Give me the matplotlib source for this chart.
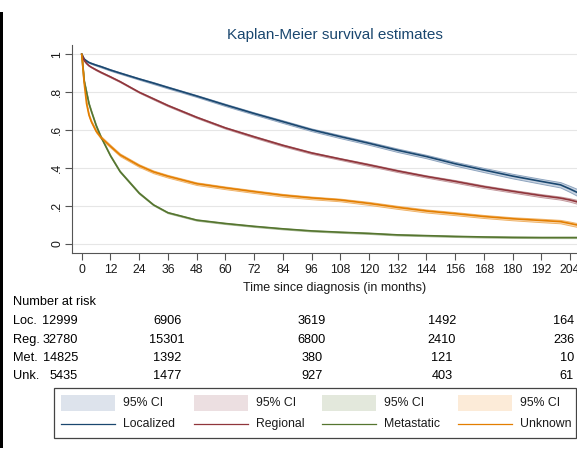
import numpy as np
import matplotlib.pyplot as plt
from matplotlib.patches import Rectangle

plt.rcParams['font.family'] = ['Liberation Sans', 'DejaVu Sans']

# Survival estimates read on a common grid of months
months = np.array([0, 1, 2, 3, 4, 6, 8, 12, 16, 24, 30, 36, 48, 60, 72, 84, 96,
                   108, 120, 132, 144, 156, 168, 180, 192, 200, 204, 207])

surv_loc = np.array([1.0, 0.975, 0.965, 0.957, 0.952, 0.943, 0.935, 0.917, 0.901,
                     0.870, 0.848, 0.825, 0.780, 0.733, 0.688, 0.645, 0.602, 0.566,
                     0.531, 0.494, 0.461, 0.423, 0.390, 0.358, 0.330, 0.312, 0.290, 0.272])
surv_reg = np.array([1.0, 0.968, 0.952, 0.940, 0.932, 0.918, 0.905, 0.881, 0.856,
                     0.800, 0.765, 0.730, 0.668, 0.612, 0.565, 0.520, 0.480, 0.448,
                     0.417, 0.385, 0.356, 0.330, 0.302, 0.278, 0.255, 0.242, 0.232, 0.222])
surv_met = np.array([1.0, 0.860, 0.800, 0.740, 0.700, 0.625, 0.565, 0.465, 0.382,
                     0.268, 0.206, 0.165, 0.126, 0.108, 0.093, 0.080, 0.069, 0.062,
                     0.056, 0.048, 0.044, 0.040, 0.037, 0.035, 0.034, 0.034, 0.034, 0.034])
surv_unk = np.array([1.0, 0.850, 0.740, 0.680, 0.645, 0.595, 0.562, 0.515, 0.470,
                     0.413, 0.380, 0.357, 0.318, 0.296, 0.276, 0.257, 0.243, 0.232,
                     0.214, 0.193, 0.174, 0.160, 0.145, 0.133, 0.124, 0.118, 0.108, 0.100])

# half-width of the 95% confidence band
hw_loc = np.array([0, 0.003, 0.003, 0.003, 0.003, 0.003, 0.004, 0.004, 0.004, 0.004,
                   0.005, 0.005, 0.005, 0.006, 0.006, 0.007, 0.007, 0.008, 0.008,
                   0.009, 0.009, 0.010, 0.011, 0.012, 0.013, 0.014, 0.016, 0.018])
hw_reg = np.array([0, 0.002, 0.002, 0.002, 0.002, 0.003, 0.003, 0.003, 0.003, 0.003,
                   0.004, 0.004, 0.004, 0.004, 0.005, 0.005, 0.005, 0.005, 0.006,
                   0.006, 0.006, 0.007, 0.007, 0.007, 0.008, 0.008, 0.009, 0.010])
hw_met = np.array([0, 0.004, 0.004, 0.004, 0.004, 0.004, 0.004, 0.004, 0.004, 0.004,
                   0.003, 0.003, 0.003, 0.003, 0.003, 0.003, 0.003, 0.003, 0.003,
                   0.003, 0.003, 0.003, 0.003, 0.003, 0.003, 0.003, 0.003, 0.003])
hw_unk = np.array([0, 0.006, 0.006, 0.006, 0.006, 0.007, 0.007, 0.007, 0.007, 0.007,
                   0.007, 0.007, 0.007, 0.007, 0.007, 0.007, 0.007, 0.007, 0.008,
                   0.008, 0.008, 0.008, 0.008, 0.008, 0.009, 0.009, 0.010, 0.010])

groups = ['Localized', 'Regional', 'Metastatic', 'Unknown']
short_names = ['Loc.', 'Reg.', 'Met.', 'Unk.']

# Number at risk table
at_risk = [
    [12999, 6906, 3619, 1492, 164],
    [32780, 15301, 6800, 2410, 236],
    [14825, 1392, 380, 121, 10],
    [5435, 1477, 927, 403, 61],
]

line_colors = ['#1a476f', '#90353b', '#55752f', '#e37e00']
band_colors = ['#c9d4e2', '#e6d2d4', '#d8e0cf', '#f9dcb8']
band_edges = ['#8fa5bf', '#c49a9e', '#a9ba96', '#f0b46a']
legend_fill = ['#dde3ec', '#ecdfe1', '#e3e8dc', '#fcebd8']

fig = plt.figure(figsize=(5.77, 4.61), dpi=100)

# overlay in pixel units for the table, legend and frame bar
ov = fig.add_axes([0, 0, 1, 1])
ov.set_xlim(0, 577)
ov.set_ylim(461, 0)
ov.axis('off')

ax = fig.add_axes([71.7 / 577, 208 / 461, 527 / 577, 208 / 461])
ax.set_xlim(-4.2, 216)
ax.set_ylim(-0.0475, 1.049)

series = [surv_loc, surv_reg, surv_met, surv_unk]
widths = [hw_loc, hw_reg, hw_met, hw_unk]
for s, hw, bc, be in zip(series, widths, band_colors, band_edges):
    ax.fill_between(months, s - hw, s + hw, facecolor=bc, edgecolor=be, lw=0.7, zorder=2)
for s, lc in zip(series, line_colors):
    ax.plot(months, s, color=lc, lw=1.2, zorder=3)

ax.set_xticks(np.arange(0, 217, 12))
ax.set_yticks([0, 0.2, 0.4, 0.6, 0.8, 1])
ax.set_yticklabels(['0', '.2', '.4', '.6', '.8', '1'], rotation=90, va='center')
ax.tick_params(axis='both', length=5, width=0.8, color='#555555', labelsize=8.8,
               labelcolor='#1a1a1a')
ax.tick_params(axis='y', pad=1)
ax.tick_params(axis='x', pad=3)
ax.grid(axis='y', color='#e6e6e6', lw=0.8)
ax.set_axisbelow(True)
for side in ['top', 'right']:
    ax.spines[side].set_visible(False)
for side in ['left', 'bottom']:
    ax.spines[side].set_color('#555555')
    ax.spines[side].set_linewidth(0.8)

ov.text(334.5, 35, 'Kaplan-Meier survival estimates', ha='center', va='center',
        fontsize=11, color='#1a476f')
ov.text(335, 288, 'Time since diagnosis (in months)', ha='center', va='center',
        fontsize=9, color='#1a1a1a')

# risk table
tfs = 9.2
ov.text(13, 302, 'Number at risk', ha='left', va='center', fontsize=tfs)
row_y = [321, 339.5, 357.5, 375.5]
col_x = [78, 167, 312, 442, 574]
col_ha = ['right', 'center', 'center', 'center', 'right']
for name, counts, yy in zip(short_names, at_risk, row_y):
    ov.text(13, yy, name, ha='left', va='center', fontsize=tfs)
    for n, xx, ha in zip(counts, col_x, col_ha):
        ov.text(xx, yy, str(n), ha=ha, va='center', fontsize=tfs)

# legend box
ov.add_patch(Rectangle((54, 388), 522, 50, fill=False, edgecolor='#444444', lw=0.9))
col_start = [61, 194, 322, 458]
for i, x0 in enumerate(col_start):
    ov.add_patch(Rectangle((x0, 395), 54, 16, facecolor=legend_fill[i], edgecolor='none'))
    ov.text(x0 + 62, 403, '95% CI', ha='left', va='center', fontsize=8.8, color='#1a1a1a')
    ov.plot([x0, x0 + 54], [424, 424], color=line_colors[i], lw=0.9)
    ov.text(x0 + 62, 424, groups[i], ha='left', va='center', fontsize=8.8, color='#1a1a1a')

# dark bar along the left edge
ov.add_patch(Rectangle((0, 12), 3.3, 436, facecolor='black', edgecolor='none'))

fig.savefig('out.png', dpi=100)
